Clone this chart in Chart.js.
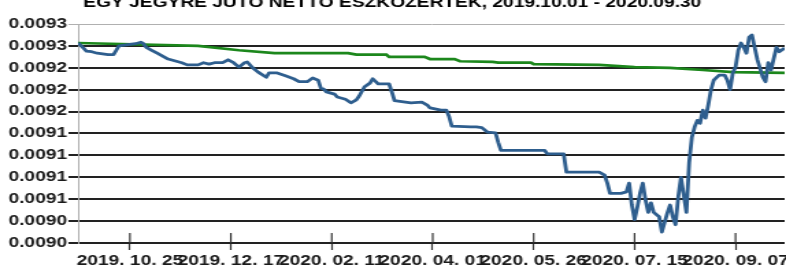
<!DOCTYPE html>
<html>
<head>
<meta charset="utf-8">
<script src="https://cdn.jsdelivr.net/npm/chart.js@4/dist/chart.umd.min.js"></script>
<style>
  html, body { margin: 0; padding: 0; background: #fff; overflow: hidden; }
  #c { display: block; }
</style>
</head>
<body>
<canvas id="c" width="574" height="275" style="width:786px;height:275px;"></canvas>
<script>
// ---- data (x = trading-day index from 2019.10.01) ----
const titleText = 'EGY JEGYRE JUTÓ NETTÓ ESZKÖZÉRTÉK, 2019.10.01 - 2020.09.30';

const navDays = [0,2,3,5,7,11,13,14,15,17,21,23,24,25,27,29,31,33,36,38,40,44,46,48,50,53,55,57,59,61,62,64,66,69,70,73,76,79,81,84,86,88,89,90,91,94,95,98,100,102,103,105,107,108,110,114,115,116,120,122,126,128,129,133,135,136,137,144,146,148,150,153,154,155,171,172,178,179,191,193,194,195,199,201,202,203,204,205,206,207,208,209,210,211,213,214,216,217,218,219,220,221,223,224,225,226,227,228,229,230,231,232,233,235,237,238,239,240,241,242,243,244,245,246,247,248,249,251,252,253,254,256,257,259];
const navValues = [0.009274,0.009267,0.009263,0.009262,0.009260,0.009258,0.009258,0.009264,0.009270,0.009271,0.009273,0.009275,0.009273,0.009268,0.009264,0.009260,0.009256,0.009252,0.009249,0.009247,0.009244,0.009244,0.009247,0.009245,0.009247,0.009247,0.009251,0.009247,0.009241,0.009247,0.009248,0.009240,0.009234,0.009227,0.009233,0.009233,0.009229,0.009225,0.009221,0.009221,0.009226,0.009223,0.009212,0.009211,0.009207,0.009204,0.009200,0.009197,0.009192,0.009196,0.009201,0.009214,0.009219,0.009225,0.009218,0.009218,0.009207,0.009195,0.009193,0.009192,0.009193,0.009189,0.009185,0.009182,0.009182,0.009173,0.009160,0.009159,0.009159,0.009158,0.009152,0.009151,0.009138,0.009127,0.009127,0.009122,0.009122,0.009097,0.009097,0.009093,0.009082,0.009068,0.009068,0.009070,0.009082,0.009052,0.009032,0.009049,0.009068,0.009082,0.009059,0.009042,0.009055,0.009042,0.009036,0.009015,0.009041,0.009052,0.009036,0.009025,0.009063,0.009090,0.009042,0.009110,0.009145,0.009159,0.009168,0.009164,0.009182,0.009171,0.009189,0.009210,0.009223,0.009230,0.009230,0.009223,0.009210,0.009233,0.009241,0.009264,0.009274,0.009268,0.009260,0.009282,0.009285,0.009268,0.009251,0.009227,0.009221,0.009247,0.009237,0.009268,0.009262,0.009267];

const refDays = [0,44,59,72,99,102,113,114,127,129,138,140,152,154,166,167,191,204,217,229,240,259];
const refValues = [0.009274,0.009270,0.009264,0.009260,0.009260,0.009258,0.009258,0.009255,0.009255,0.009252,0.009252,0.009249,0.009248,0.009247,0.009247,0.009245,0.009244,0.009241,0.009240,0.009237,0.009234,0.009233];

const xTickDays = [19,56,93,130,167,204,241];
const xTickLabels = ['2019. 10. 25','2019. 12. 17','2020. 02. 11','2020. 04. 01','2020. 05. 26','2020. 07. 15','2020. 09. 07'];
const yTickLabels = ['0.0090','0.0090','0.0091','0.0091','0.0091','0.0091','0.0092','0.0092','0.0092','0.0093','0.0093'];

// ---- chart ----
Chart.defaults.font.family = "'Liberation Sans', Arial, sans-serif";

const innerTicks = {
  id: 'innerTicks',
  afterDatasetsDraw(chart) {
    const sx = chart.scales.x, area = chart.chartArea, ctx = chart.ctx;
    ctx.save();
    ctx.strokeStyle = '#333';
    ctx.lineWidth = 1.2;
    sx.ticks.forEach(t => {
      const px = sx.getPixelForValue(t.value);
      ctx.beginPath();
      ctx.moveTo(px, area.bottom - 10);
      ctx.lineTo(px, area.bottom);
      ctx.stroke();
    });
    ctx.restore();
  }
};

new Chart(document.getElementById('c'), {
  type: 'line',
  data: {
    datasets: [
      {
        label: 'nav',
        data: navDays.map((d, i) => ({ x: d, y: navValues[i] })),
        borderColor: '#2e5e8e',
        borderWidth: 2.8,
        pointRadius: 0,
        tension: 0,
        borderJoinStyle: 'round',
        fill: false
      },
      {
        label: 'ref',
        data: refDays.map((d, i) => ({ x: d, y: refValues[i] })),
        borderColor: '#1c871c',
        borderWidth: 2.7,
        pointRadius: 0,
        tension: 0,
        fill: false
      }
    ]
  },
  plugins: [innerTicks],
  options: {
    responsive: false,
    devicePixelRatio: 1,
    animation: false,
    events: [],
    layout: { padding: { left: 0, right: 1, top: 0, bottom: 0 } },
    plugins: {
      legend: { display: false },
      tooltip: { enabled: false },
      title: {
        display: true,
        text: titleText,
        color: '#000',
        font: { size: 14, weight: 'bold' },
        padding: { top: -5.4, bottom: 12.6 }
      }
    },
    scales: {
      x: {
        type: 'linear',
        min: 0,
        max: 259,
        afterBuildTicks(scale) { scale.ticks = xTickDays.map(v => ({ value: v })); },
        afterFit(scale) { scale.height = 32; scale.paddingLeft = 0; scale.paddingRight = 0; },
        ticks: {
          autoSkip: false,
          maxRotation: 0,
          minRotation: 0,
          padding: 3,
          color: '#1a1a1a',
          font: { size: 14, weight: 'bold' },
          callback(v, i) { return xTickLabels[i]; }
        },
        grid: {
          drawOnChartArea: false,
          drawTicks: true,
          tickLength: 7,
          tickColor: '#333',
          tickWidth: 1.2
        },
        border: { display: false }
      },
      y: {
        type: 'linear',
        min: 0.009,
        max: 0.0093,
        afterBuildTicks(scale) {
          scale.ticks = yTickLabels.map((_, i) => ({ value: 0.009 + i * 0.00003 }));
        },
        afterFit(scale) { scale.width = 57; scale.paddingTop = 0; scale.paddingBottom = 0; },
        ticks: {
          padding: 1,
          color: '#1a1a1a',
          font: { size: 14, weight: 'bold' },
          callback(v, i) { return yTickLabels[i]; }
        },
        grid: {
          color: (c) => (c.index === yTickLabels.length - 1 ? '#b0b0b0' : '#222'),
          lineWidth: (c) => (c.index === yTickLabels.length - 1 ? 1 : 2),
          tickLength: 7,
          drawTicks: true
        },
        border: { display: true, color: '#b0b0b0', width: 1 }
      }
    }
  }
});
</script>
</body>
</html>
